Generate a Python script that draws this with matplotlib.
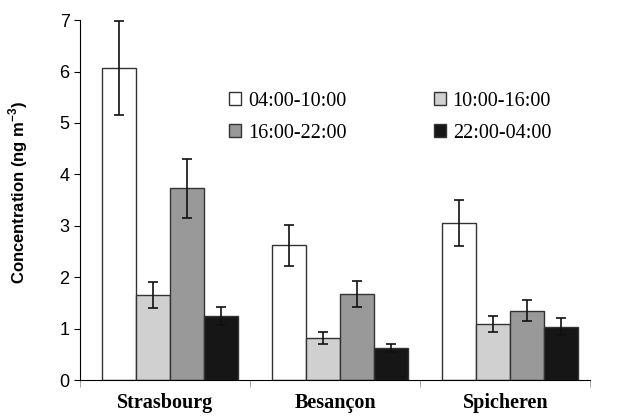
import numpy as np
import matplotlib
matplotlib.use("Agg")
import matplotlib.pyplot as plt

sites = ["Strasbourg", "Besançon", "Spicheren"]
periods = ["04:00-10:00", "10:00-16:00", "16:00-22:00", "22:00-04:00"]
colors = ["#ffffff", "#d0d0d0", "#999999", "#161616"]

# concentrations per period (rows) and site (columns)
values = [
    [6.07, 2.62, 3.05],
    [1.65, 0.82, 1.09],
    [3.73, 1.67, 1.35],
    [1.25, 0.62, 1.04],
]
errors = [
    [0.91, 0.40, 0.45],
    [0.25, 0.12, 0.16],
    [0.57, 0.25, 0.20],
    [0.18, 0.08, 0.16],
]

fig, ax = plt.subplots(figsize=(6.3, 4.19), dpi=100)
fig.subplots_adjust(left=0.127, right=0.937, bottom=0.093, top=0.952)

x = np.arange(len(sites))
w = 0.2
handles = []
for i, p in enumerate(periods):
    b = ax.bar(x - 0.27 + i * w, values[i], w, color=colors[i], edgecolor="#333333",
               linewidth=1.0, label=p, zorder=2)
    handles.append(b)
    ax.errorbar(x - 0.27 + i * w, values[i], yerr=errors[i], fmt="none",
                ecolor="#111111", elinewidth=1.2, capsize=3.5, capthick=1.2, zorder=3)

ax.set_xlim(-0.5, 2.5)
ax.set_ylim(0, 7)
ax.set_yticks(range(8))
ax.set_xticks(x)
ax.set_xticklabels(sites, fontfamily="Liberation Serif", fontweight="bold", fontsize=14.5)
ax.set_xticks([-0.5, 0.5, 1.5, 2.5], minor=True)
ax.tick_params(axis="x", which="major", length=0, pad=9)
ax.tick_params(axis="x", which="minor", length=5, color="#999999")
ax.tick_params(axis="y", labelsize=13, length=4)
for lab in ax.get_yticklabels():
    lab.set_fontfamily("Liberation Sans")

ax.set_ylabel("Concentration (ng m$^{\\mathregular{-3}}$)", fontfamily="Liberation Sans",
              fontweight="bold", fontsize=12)
ax.yaxis.set_label_coords(-0.098, 0.52)
ax.spines["top"].set_visible(False)
ax.spines["right"].set_visible(False)

# legend filled row by row
order = [0, 2, 1, 3]
ax.legend([handles[k] for k in order], [periods[k] for k in order],
          loc="upper left", bbox_to_anchor=(0.265, 0.84), ncol=2, frameon=False,
          prop={"family": "Liberation Serif", "size": 14.5}, handlelength=0.6,
          handleheight=0.6, handletextpad=0.35, columnspacing=4.3, labelspacing=0.65,
          borderpad=0.2)

fig.savefig("out.png")
